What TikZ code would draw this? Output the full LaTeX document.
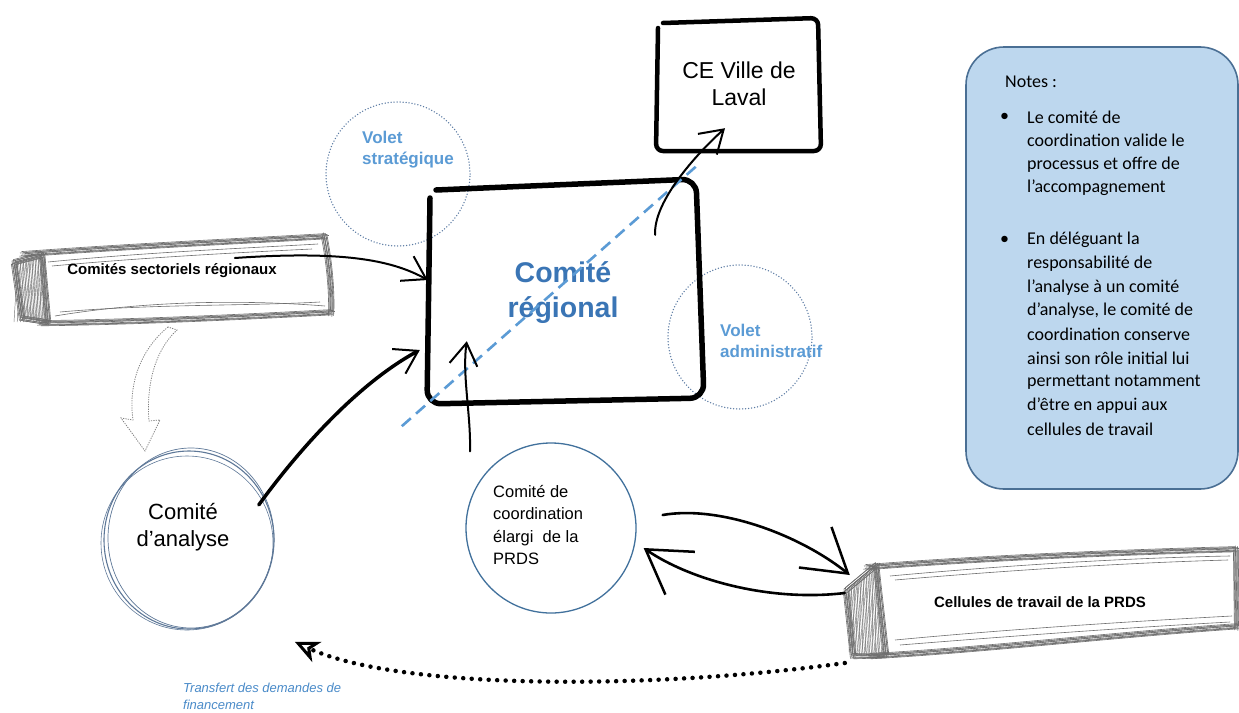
\documentclass[tikz,border=0pt]{standalone}
\usepackage{fontspec}
\setmainfont{Liberation Sans}
\newfontfamily\notefont{Carlito}
\usetikzlibrary{arrows.meta,calc}
\definecolor{regblue}{HTML}{3A75B5}
\definecolor{voletblue}{HTML}{5B9BD5}
\definecolor{dotcirc}{HTML}{5A7AA3}
\definecolor{notefill}{HTML}{BDD7EE}
\definecolor{noteline}{HTML}{4A6F94}
\definecolor{anacol}{HTML}{5E7898}
\definecolor{coordcol}{HTML}{41719C}
\definecolor{sketchgray}{HTML}{6E6E6E}
\definecolor{dashblue}{HTML}{5B9BD5}
\definecolor{transblue}{HTML}{4A8BC9}
\begin{document}
\begin{tikzpicture}[x=1pt,y=-1pt,
  sketch/.style={draw=sketchgray, line width=0.6pt},
  hatch/.style={draw=black!55, line width=0.45pt},
  conn/.style={draw=black, line width=2pt, line cap=round},
  heavyconn/.style={draw=black, line width=3.5pt, line cap=round},
  barb/.style={-{Straight Barb[length=22pt,width=28pt,line width=2pt]}},
  bigbarb/.style={-{Straight Barb[length=42pt,width=52pt,line width=2.5pt]}},
  framebox/.style={draw=black, line cap=round, line join=round},
  dotcircle/.style={circle, draw=dotcirc, line width=1.5pt, dash pattern=on 0pt off 3pt, line cap=round, minimum size=144pt, inner sep=0pt},
  volet/.style={text=voletblue, font=\bfseries\fontsize{17}{21}\selectfont, align=left, inner sep=0pt, anchor=west},
  slabtext/.style={font=\bfseries\fontsize{15}{18}\selectfont, text=black, inner sep=0pt},
  notetext/.style={font=\notefont\fontsize{18}{22}\selectfont, anchor=west, inner sep=0pt},
]
\fill[white] (0,0) rectangle (1239,712);
\useasboundingbox (0,0) rectangle (1239,712);

% ---------- notes box ----------
\node[draw=noteline, fill=notefill, line width=1.6pt, rounded corners=38pt, minimum width=272pt, minimum height=442pt, inner sep=0pt] (notes) at (1102,268) {};
\node[notetext] (notestitle) at (1005,82) {Notes :};
\node[notetext] (bul1) at (1000,117) {•};
\node[notetext] (bul2) at (1000,240) {•};
\foreach \t [count=\i from 0] in {Le comité de, coordination valide le, processus et offre de, l’accompagnement}
  \node[notetext] (na\i) at (1027,117+23.7*\i) {\t};
\foreach \t [count=\i from 0] in {En déléguant la, responsabilité de, l’analyse à un comité, {d’analyse, le comité de}, coordination conserve, ainsi son rôle initial lui, permettant notamment, d’être en appui aux, cellules de travail}
  \node[notetext] (nb\i) at (1027,240+23.7*\i) {\t};

% ---------- dotted volet circles ----------
\node[dotcircle] (vs) at (398,174) {};
\node[dotcircle] (va) at (740,337) {};
\node[volet] (vstxt) at (362,150) {Volet\\stratégique};
\node[volet] (vatxt) at (720,341) {Volet\\administratif};

% ---------- Comité régional ----------
\node[minimum width=274pt, minimum height=222pt, align=center, text=regblue,
      font=\bfseries\fontsize{28.5}{35}\selectfont] (reg) at (563,293) {Comité\\régional};
\draw[framebox, line width=5.5pt, rounded corners=14pt] (436,190) -- (696,179) -- (704,398) -- (427,404) -- (430,198);

% ---------- CE Ville de Laval ----------
\node[minimum width=164pt, minimum height=134pt, align=center,
      font=\fontsize{23}{27}\selectfont] (ce) at (739,84) {CE Ville de\\Laval};
\draw[framebox, line width=4.5pt, rounded corners=7pt] (663,23) -- (818,18) -- (821,151) -- (656,151) -- (658,28);

% ---------- dashed diagonal ----------
\draw[dashblue, line width=2.6pt, dash pattern=on 12pt off 7pt]
  ([xshift=-24pt,yshift=-22pt]reg.south west) -- ([yshift=19pt]reg.north east);

% ---------- Comités sectoriels régionaux slab ----------
\foreach \dx/\dy in {0/0, 1.5/-1.6, -1.2/1.3, 2.2/1.9, -2/-1, 0.8/2.8, -0.6/-2.4, 2.8/-0.5, -2.6/2.2}{
  \draw[sketch] (22+\dx,254+\dy) .. controls (130+\dx,246+\dy) and (240+\dx,241+\dy) .. (326+\dx,236+\dy);
  \draw[sketch] (324+\dx,235+\dy) .. controls (329+\dx,260+\dy) and (332+\dx,290+\dy) .. (331+\dx,314+\dy);
  \draw[sketch] (332+\dx,312+\dy) .. controls (240+\dx,317+\dy) and (130+\dx,322+\dy) .. (40+\dx,323+\dy);
  \draw[sketch] (14+\dx,262+\dy) -- (42+\dx,255+\dy) -- (48+\dx,322+\dy) -- (22+\dx,318+\dy) -- cycle;
}
\draw[sketch] (48,262) .. controls (150,252) and (250,248) .. (318,244);
\draw[sketch] (52,266) .. controls (150,257) and (250,252) .. (312,249);
\draw[sketch] (55,316) .. controls (150,300) and (250,300) .. (325,306);
\draw[sketch] (60,312) .. controls (150,304) and (250,306) .. (320,302);
\foreach \i in {0,...,18}
  \draw[hatch] (15+1.65*\i, 262-0.4*\i) -- (22+1.4*\i, 318+0.25*\i);
\foreach \i in {0,...,9}
  \draw[hatch] (18+3*\i, 258) -- (14+3.2*\i, 322);
\node[slabtext] (sect) at (172,271) {Comités sectoriels régionaux};

% ---------- Cellules de travail slab ----------
\foreach \dx/\dy in {0/0, 1.5/-1.6, -1.2/1.3, 2.2/1.9, -2/-1, 0.8/2.8, -0.6/-2.4, 2.8/-0.5, -2.6/2.2}{
  \draw[sketch] (866+\dx,567+\dy) .. controls (980+\dx,558+\dy) and (1120+\dx,552+\dy) .. (1236+\dx,549+\dy);
  \draw[sketch] (1236+\dx,548+\dy) -- (1237+\dx,628+\dy);
  \draw[sketch] (1238+\dx,626+\dy) .. controls (1120+\dx,634+\dy) and (980+\dx,650+\dy) .. (870+\dx,656+\dy);
  \draw[sketch] (846+\dx,590+\dy) -- (876+\dx,565+\dy) -- (886+\dx,655+\dy) -- (853+\dx,656+\dy) -- cycle;
}
\draw[sketch] (890,576) .. controls (1000,566) and (1120,558) .. (1230,556);
\draw[sketch] (895,580) .. controls (1000,571) and (1120,563) .. (1228,560);
\draw[sketch] (895,640) .. controls (1000,630) and (1120,622) .. (1232,616);
\draw[sketch] (900,645) .. controls (1000,637) and (1120,628) .. (1230,622);
\foreach \i in {0,...,18}
  \draw[hatch] (848+1.65*\i, 590-1.3*\i) -- (853+1.7*\i, 656);
\foreach \i in {0,...,9}
  \draw[hatch] (852+3*\i, 584-2.4*\i) -- (849+3.3*\i, 652);
\node[slabtext, minimum width=390pt, minimum height=95pt] (cell) at (1040,602) {Cellules de travail de la PRDS};

% ---------- Comité d'analyse ----------
\node[circle, minimum size=172pt, inner sep=0pt] (ana) at (189,540) {};
\draw[anacol, line width=1.1pt] (189,540) ellipse [x radius=85, y radius=89];
\draw[anacol, line width=0.7pt] (191,538) ellipse [x radius=83, y radius=90];
\draw[anacol, line width=0.6pt] (187,543) ellipse [x radius=86, y radius=87];
\node[align=center, font=\fontsize{22}{27}\selectfont] (anatxt) at (183,527) {Comité\\d’analyse};

% ---------- Comité de coordination ----------
\node[circle, draw=coordcol, line width=1.3pt, minimum size=170pt, inner sep=0pt] (coord) at (551,528) {};
\node[align=left, anchor=west, inner sep=0pt, font=\fontsize{16.5}{22.5}\selectfont] (coordtxt) at (493,525)
  {Comité de\\coordination\\élargi\ \ de la\\PRDS};

% ---------- hollow gray arrow (sectoriels -> analyse) ----------
\draw[gray, line width=0.8pt, dash pattern=on 1.2pt off 1.2pt]
  (168,327) .. controls (140,350) and (128,385) .. (133,420) -- (121,418) -- (145,451) -- (160,420) -- (149,421)
  .. controls (146,385) and (155,350) .. (177,330) -- cycle;

% ---------- connectors ----------
\draw[conn, barb] ([xshift=-42pt,yshift=13pt]sect.east) .. controls (350,250) and (395,262) .. ([xshift=2pt,yshift=13pt]reg.west);
\draw[heavyconn, barb] ([xshift=-7pt,yshift=-4pt]ana.27) .. controls (295,455) and (355,385) .. ([xshift=-6pt,yshift=-57pt]reg.west);
\draw[conn, barb] ([xshift=-81pt,yshift=-9pt]coord.north) .. controls (471,415) and (462,375) .. ([xshift=41pt,yshift=63pt]reg.south west);
\draw[conn, barb] ([xshift=-45pt,yshift=-53pt]reg.north east) .. controls (653,205) and (690,160) .. ([xshift=-14pt,yshift=23pt]ce.south);
\draw[conn, line width=2.6pt, bigbarb] ([xshift=26pt,yshift=13pt]coord.east) .. controls (720,505) and (800,535) .. ([xshift=5pt,yshift=27pt]cell.west);
\draw[conn, line width=2.6pt, bigbarb] ([yshift=9pt]cell.west) .. controls (770,602) and (690,580) .. ([xshift=7pt,yshift=-20pt]coord.east);
\draw[line width=4.5pt, dash pattern=on 0pt off 8.5pt, line cap=round,
      -{Stealth[open,length=24pt,width=22pt,inset=7pt,line width=3pt]}]
  ([yshift=-61pt]cell.west) .. controls (650,690) and (400,690) .. ([xshift=45pt,yshift=-41pt]ana.south east);

% ---------- transfer label ----------
\node[anchor=north west, inner sep=0pt, align=left, text=transblue, font=\itshape\fontsize{13}{17}\selectfont] (transfert) at (183,683)
  {Transfert des demandes de\\financement};
\end{tikzpicture}
\end{document}
